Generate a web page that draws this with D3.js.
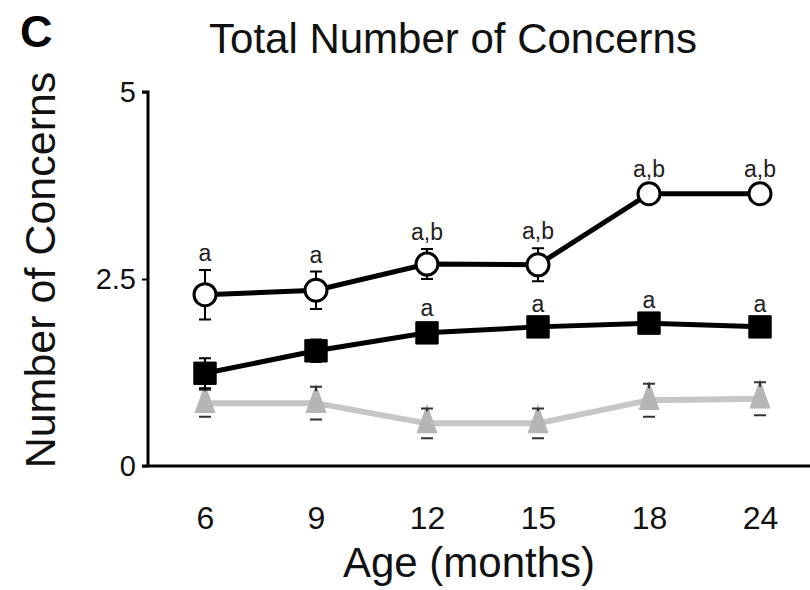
<!DOCTYPE html>
<html>
<head>
<meta charset="utf-8">
<script src="https://cdn.jsdelivr.net/npm/d3@7"></script>
<style>
  body { margin: 0; background: #fff; }
  svg text { font-family: "Liberation Sans", Arial, sans-serif; }
</style>
</head>
<body>
<div id="chart"></div>
<script>
// data
const ages = ["6", "9", "12", "15", "18", "24"];
const openMean = [2.29, 2.35, 2.70, 2.69, 3.64, 3.64];
const openErr = [0.33, 0.25, 0.2, 0.22, 0.1, 0.1];
const openLetters = ["a", "a", "a,b", "a,b", "a,b", "a,b"];
const filledMean = [1.24, 1.54, 1.78, 1.86, 1.91, 1.86];
const filledErr = [0.2, 0.15, 0.1, 0.08, 0.08, 0.08];
const filledLetters = ["", "", "a", "a", "a", "a"];
const grayMean = [0.84, 0.84, 0.57, 0.57, 0.88, 0.9];
const grayErr = [0.18, 0.22, 0.2, 0.2, 0.22, 0.22];
const yTicks = [0, 2.5, 5];

const width = 810, height = 590;
const margin = {top: 92, right: 0, bottom: 124, left: 148};

const svg = d3.select("#chart").append("svg")
    .attr("width", width)
    .attr("height", height);

const xScale = d3.scalePoint()
    .domain(ages)
    .range([205, 760]);

const yScale = d3.scaleLinear()
    .domain([0, 5])
    .range([height - margin.bottom, margin.top]);

// axes
const yAxisG = svg.append("g")
    .attr("transform", "translate(" + margin.left + ",0)")
    .call(d3.axisLeft(yScale).tickValues(yTicks).tickSize(6).tickPadding(6)
        .tickFormat(d => d === 2.5 ? "2.5" : d));
yAxisG.select(".domain").attr("stroke-width", 3).attr("d",
    "M-6," + yScale(5) + "H0V" + yScale(0));
yAxisG.selectAll(".tick line").attr("stroke-width", 2);
yAxisG.selectAll(".tick text")
    .attr("font-size", 29)
    .attr("fill", "#111");

const xAxisG = svg.append("g")
    .attr("transform", "translate(0," + yScale(0) + ")")
    .call(d3.axisBottom(xScale).tickSize(0).tickPadding(40));
xAxisG.select(".domain").attr("stroke-width", 3)
    .attr("d", "M" + (margin.left - 6) + ",0H" + width);
xAxisG.selectAll(".tick text")
    .attr("font-size", 32)
    .attr("fill", "#111");

// titles
svg.append("text")
    .attr("x", 20).attr("y", 47)
    .attr("font-size", 45).attr("font-weight", "bold")
    .text("C");

svg.append("text")
    .attr("x", 453).attr("y", 53)
    .attr("text-anchor", "middle")
    .attr("font-size", 42)
    .attr("fill", "#111")
    .text("Total Number of Concerns");

svg.append("text")
    .attr("transform", "rotate(-90)")
    .attr("x", -270).attr("y", 55)
    .attr("text-anchor", "middle")
    .attr("font-size", 43)
    .attr("fill", "#111")
    .text("Number of Concerns");

svg.append("text")
    .attr("x", 469).attr("y", 577)
    .attr("text-anchor", "middle")
    .attr("font-size", 42)
    .attr("fill", "#111")
    .text("Age (months)");

// one series: line, error bars, markers, letters
function drawSeries(means, errs, opts) {
    const g = svg.append("g");
    const pts = ages.map((a, i) => ({age: a, v: means[i], e: errs[i]}));

    g.append("path")
        .datum(pts)
        .attr("fill", "none")
        .attr("stroke", opts.lineColor)
        .attr("stroke-width", opts.lineWidth)
        .attr("d", d3.line().x(d => xScale(d.age)).y(d => yScale(d.v)));

    g.selectAll(".marker")
        .data(pts)
        .join("path")
        .attr("class", "marker")
        .attr("transform", d => "translate(" + xScale(d.age) + "," + yScale(d.v) + ")" +
            (opts.stretch ? " scale(" + opts.stretch + ")" : ""))
        .attr("d", d3.symbol().type(opts.symbol).size(opts.size))
        .attr("fill", opts.fill)
        .attr("stroke", opts.stroke)
        .attr("stroke-width", opts.strokeWidth);

    // error bars drawn on top for the grey series, under for the others
    const errG = opts.errOnTop ? g.append("g") : g.insert("g", ":first-child");
    errG.selectAll(".err")
        .data(pts)
        .join("path")
        .attr("class", "err")
        .attr("fill", "none")
        .attr("stroke", opts.errColor)
        .attr("stroke-width", 2)
        .attr("d", d => {
            const x = xScale(d.age);
            const y1 = yScale(d.v + d.e), y0 = yScale(d.v - d.e);
            const top = opts.errOnTop ? yScale(d.v) - 12 : y0;
            return "M" + x + "," + top + "V" + y1 +
                "M" + (x - 6) + "," + y1 + "H" + (x + 6) +
                "M" + (x - 6) + "," + y0 + "H" + (x + 6);
        });

    if (opts.letters) {
        g.selectAll(".letter")
            .data(pts)
            .join("text")
            .attr("class", "letter")
            .attr("x", d => xScale(d.age))
            .attr("y", d => yScale(d.v + d.e) - opts.letterGap)
            .attr("text-anchor", "middle")
            .attr("font-size", 23)
            .attr("fill", "#222")
            .text((d, i) => opts.letters[i]);
    }
}

drawSeries(grayMean, grayErr, {
    lineColor: "#c6c6c6", lineWidth: 6, errColor: "#333", symbol: d3.symbolTriangle,
    size: 260, fill: "#b5b5b5", stroke: "#b5b5b5", strokeWidth: 1,
    stretch: "0.8,1.3", errOnTop: true
});

drawSeries(filledMean, filledErr, {
    lineColor: "#000", lineWidth: 5, errColor: "#000", symbol: d3.symbolSquare,
    size: 500, fill: "#000", stroke: "#000", strokeWidth: 1,
    letters: filledLetters, letterGap: 9
});

drawSeries(openMean, openErr, {
    lineColor: "#000", lineWidth: 5, errColor: "#000", symbol: d3.symbolCircle,
    size: 380, fill: "#fff", stroke: "#000", strokeWidth: 3,
    letters: openLetters, letterGap: 9
});
</script>
</body>
</html>
